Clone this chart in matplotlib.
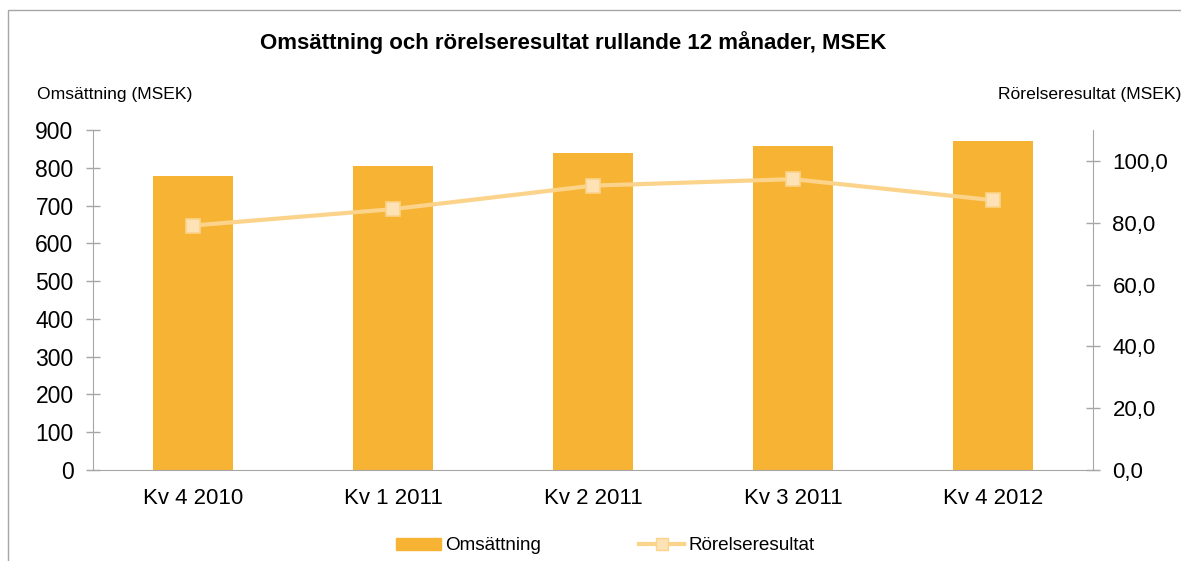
import matplotlib
matplotlib.use("Agg")
import matplotlib.pyplot as plt
from matplotlib.patches import Rectangle
from matplotlib.ticker import FuncFormatter
from matplotlib.lines import Line2D
from matplotlib.patches import Patch

categories = ["Kv 4 2010", "Kv 1 2011", "Kv 2 2011", "Kv 3 2011", "Kv 4 2012"]
omsattning = [778, 806, 839, 858, 871]
rorelseresultat = [79.1, 84.4, 92.0, 94.1, 87.3]
left_ticks = [0, 100, 200, 300, 400, 500, 600, 700, 800, 900]
right_ticks = [0, 20, 40, 60, 80, 100]

plt.rcParams['font.family'] = ['Liberation Sans', 'DejaVu Sans']

bar_color = "#F7B334"
line_color = "#FBD38A"
marker_fill = "#FCE2B4"
axis_color = "#A6A6A6"

fig = plt.figure(figsize=(11.81, 5.61), dpi=100)
ax = fig.add_axes([93/1181, 91/561, 1000/1181, 340/561])
x = list(range(len(categories)))
ax.bar(x, omsattning, width=0.4, color=bar_color, zorder=2)
ax.set_xlim(-0.5, len(categories) - 0.5)
ax.set_ylim(0, 900)
ax.set_yticks(left_ticks)
ax.set_xticks(x)
ax.set_xticklabels(categories, fontsize=16)
ax.tick_params(axis='x', length=0, pad=13)
ax.tick_params(axis='y', direction='inout', length=10, width=1, color=axis_color, labelsize=16.5, pad=9)
for s in ['top', 'right']:
    ax.spines[s].set_visible(False)
ax.spines['left'].set_color(axis_color)
ax.spines['bottom'].set_color(axis_color)
ax.spines['bottom'].set_bounds(-0.53, 4.53)

ax2 = ax.twinx()
ax2.plot(x, rorelseresultat, color=line_color, lw=3, marker='s', markersize=10,
         markerfacecolor=marker_fill, markeredgecolor=line_color, markeredgewidth=1.2, zorder=3)
ax2.set_ylim(0, 110)
ax2.set_yticks(right_ticks)
ax2.yaxis.set_major_formatter(FuncFormatter(lambda v, p: f"{v:.1f}".replace('.', ',')))
ax2.tick_params(axis='y', direction='inout', length=10, width=1, color=axis_color, labelsize=16, pad=9)
for s in ['top', 'left', 'bottom']:
    ax2.spines[s].set_visible(False)
ax2.spines['right'].set_color(axis_color)

fig.text(573/1181, 1 - 43/561, "Omsättning och rörelseresultat rullande 12 månader, MSEK",
         ha='center', va='center', fontsize=16, fontweight='bold')
fig.text(37/1181, 1 - 95/561, "Omsättning (MSEK)", ha='left', va='center', fontsize=12.6)
fig.text(998/1181, 1 - 95/561, "Rörelseresultat (MSEK)", ha='left', va='center', fontsize=12.6)

handles = [Patch(color=bar_color, label="Omsättning"),
           Line2D([0], [0], color=line_color, lw=3, marker='s', markersize=8,
                  markerfacecolor=marker_fill, markeredgecolor=line_color, label="Rörelseresultat")]
fig.legend(handles=handles, loc='center', bbox_to_anchor=(605/1181, 1 - 546/561), ncol=2,
           frameon=False, fontsize=13.6, handlelength=2.4, handleheight=0.55, columnspacing=5.2, handletextpad=0.2)

fig.patches.append(Rectangle((8/1181, -0.1), 1.2, 1 - 10/561 + 0.1, transform=fig.transFigure,
                             fill=False, edgecolor=axis_color, lw=1))

fig.savefig("out.png", dpi=100)
